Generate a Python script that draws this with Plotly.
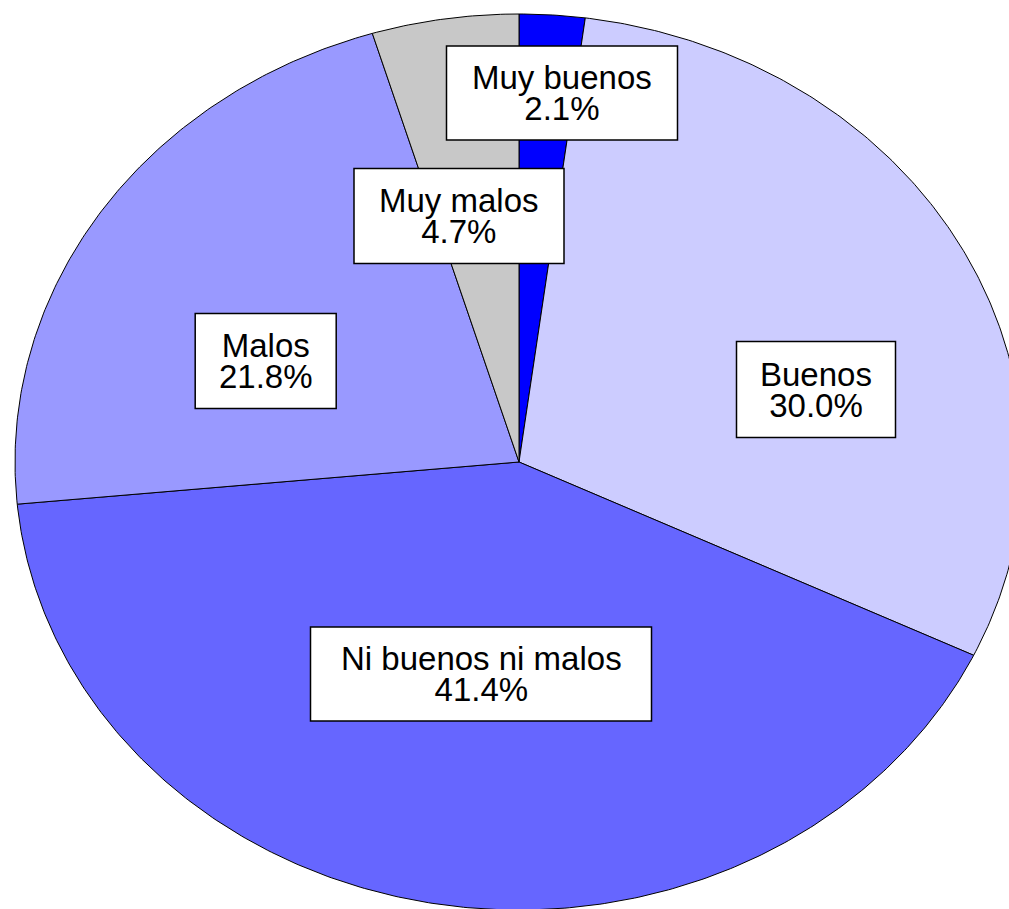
import numpy as np
import plotly.graph_objects as go

# Survey answer categories and their shares (percent), clockwise from 12 o'clock
categories = ["Muy buenos", "Buenos", "Ni buenos ni malos", "Malos", "Muy malos"]
shares = [2.1, 30.0, 41.4, 21.8, 4.7]

# Slice fill colours
colors = ["#0000FF", "#CCCCFF", "#6666FF", "#9999FF", "#C8C8C8"]

# Geometry of the (horizontally stretched) pie, in pixel-like axis units
W, H = 1009, 909
CX, CY = 519, 462
RX, RY = 504, 448

# Label box centres and sizes (w, h)
label_boxes = {
    "Muy buenos": (562, 93, 231, 94),
    "Buenos": (816, 389.5, 159, 96),
    "Ni buenos ni malos": (481, 674, 341, 94),
    "Malos": (265.7, 361, 141, 95),
    "Muy malos": (459, 216, 210, 95),
}

fig = go.Figure()

total = sum(shares)
start = 0.0
for name, val, col in zip(categories, shares, colors):
    frac = val / total
    t0, t1 = start * 2 * np.pi, (start + frac) * 2 * np.pi
    n = max(8, int(frac * 720))
    th = np.linspace(t0, t1, n)
    xs = np.concatenate([[CX], CX + RX * np.sin(th), [CX]])
    ys = np.concatenate([[CY], CY - RY * np.cos(th), [CY]])
    fig.add_trace(go.Scatter(
        x=xs, y=ys, mode="lines", fill="toself", fillcolor=col,
        line=dict(color="#000000", width=1), hoverinfo="skip", showlegend=False,
        name=name,
    ))
    start += frac

# Base size sets the (tight) line spacing; the spans carry the glyph size
base_font = dict(family="Liberation Sans, Arial, sans-serif", size=24, color="#000000")
span = "<span style='font-size:33px'>{}</span>"
for name, val in zip(categories, shares):
    bx, by, bw, bh = label_boxes[name]
    fig.add_shape(type="rect", xref="x", yref="y",
                  x0=bx - bw / 2, x1=bx + bw / 2, y0=by - bh / 2, y1=by + bh / 2,
                  fillcolor="#FFFFFF", line=dict(color="#000000", width=1.5), layer="above")
    text = span.format(name) + "<br>" + span.format(f"{val:.1f}%")
    fig.add_annotation(x=bx, y=by, xref="x", yref="y", text=text,
                       showarrow=False, font=base_font, xanchor="center", yanchor="middle")

fig.update_layout(
    width=W, height=H, margin=dict(l=0, r=0, t=0, b=0),
    paper_bgcolor="#FFFFFF", plot_bgcolor="#FFFFFF", showlegend=False,
    xaxis=dict(range=[0, W], visible=False, fixedrange=True),
    yaxis=dict(range=[H, 0], visible=False, fixedrange=True),
)

fig.write_html("out.html")
